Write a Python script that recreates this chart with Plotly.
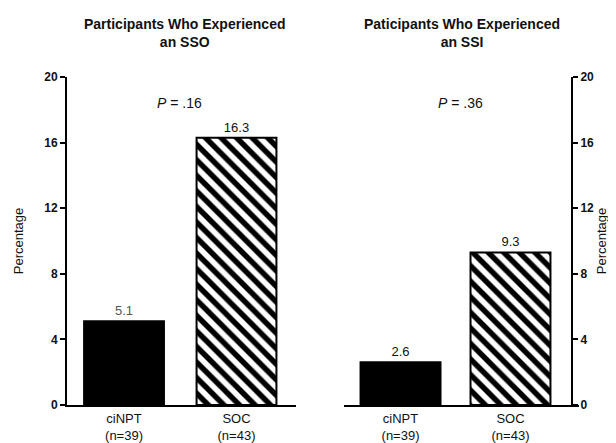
import plotly.graph_objects as go

groups = ["ciNPT<br>(n=39)", "SOC<br>(n=43)"]
sso_values = [5.1, 16.3]
ssi_values = [2.6, 9.3]
sso_labels = ["5.1", "16.3"]
ssi_labels = ["2.6", "9.3"]
titles = ["Participants Who Experienced<br>an SSO", "Paticipants Who Experienced<br>an SSI"]
p_texts = ["<i>P</i> = .16", "<i>P</i> = .36"]
yticks = [0, 4, 8, 12, 16, 20]

FONT = "Liberation Sans"
W, H = 616, 443
OFFX, OFFY = 4, 8  # page offset seen in the browser


def px(x):
    return (x - OFFX) / W


def py(y):
    return 1 - (y - OFFY) / H


xpos = [0, 1]

fig = go.Figure()


def add_bars(vals, labels, xa, ya, width, first_color):
    fig.add_trace(go.Bar(
        x=[xpos[0]], y=[vals[0]], xaxis=xa, yaxis=ya, width=width,
        marker=dict(color="black", line=dict(color="black", width=2)),
        text=[labels[0]], textposition="outside", cliponaxis=False,
        textfont=dict(size=13, color=first_color, family=FONT), showlegend=False))
    fig.add_trace(go.Bar(
        x=[xpos[1]], y=[vals[1]], xaxis=xa, yaxis=ya, width=width,
        marker=dict(color="white", line=dict(color="black", width=2),
                    pattern=dict(shape="\\", fgcolor="black", bgcolor="white",
                                 fgopacity=1, size=11, solidity=0.5)),
        text=[labels[1]], textposition="outside", cliponaxis=False,
        textfont=dict(size=13, color="#111", family=FONT), showlegend=False))


add_bars(sso_values, sso_labels, "x", "y", 0.71, "#555")
add_bars(ssi_values, ssi_labels, "x2", "y2", 0.727, "#111")

ydom = [py(405), py(77)]
common_x = dict(showline=True, linecolor="black", linewidth=2, ticks="",
                tickmode="array", tickvals=xpos, ticktext=groups,
                tickfont=dict(size=13, family=FONT, color="#111"),
                showgrid=False, zeroline=False, automargin=False)
common_y = dict(showline=True, linecolor="black", linewidth=2, ticks="outside",
                ticklen=5, tickwidth=2, tickcolor="black",
                tickvals=yticks, range=[0, 20], showgrid=False, zeroline=False,
                automargin=False,
                tickfont=dict(size=12, family=FONT, color="#111", weight="bold"))
title_font = dict(size=13, family=FONT, color="#111")

fig.update_layout(
    width=W, height=H,
    margin=dict(l=0, r=0, t=0, b=0),
    paper_bgcolor="white", plot_bgcolor="white",
    barmode="overlay",
    xaxis=dict(domain=[px(63), px(292)], range=[-0.507, 1.529], anchor="y", **common_x),
    yaxis=dict(domain=ydom, anchor="x",
               title=dict(text="Percentage", standoff=18, font=title_font), **common_y),
    xaxis2=dict(domain=[px(340), px(575)], range=[-0.514, 1.623], anchor="y2", **common_x),
    yaxis2=dict(domain=ydom, anchor="free", side="right", position=px(568),
                title=dict(text="Percentage", standoff=3, font=title_font), **common_y),
)

for t, cx in zip(titles, [181, 458]):
    fig.add_annotation(x=px(cx), y=py(33), xref="paper", yref="paper", text=f"<b>{t}</b>",
                       showarrow=False, xanchor="center", yanchor="middle",
                       font=dict(size=14, family=FONT, color="#111"))
for t, cx in zip(p_texts, [175, 456]):
    fig.add_annotation(x=px(cx), y=py(103), xref="paper", yref="paper", text=t,
                       showarrow=False, xanchor="center", yanchor="middle",
                       font=dict(size=14, family=FONT, color="#111"))

fig.write_html("out.html")
